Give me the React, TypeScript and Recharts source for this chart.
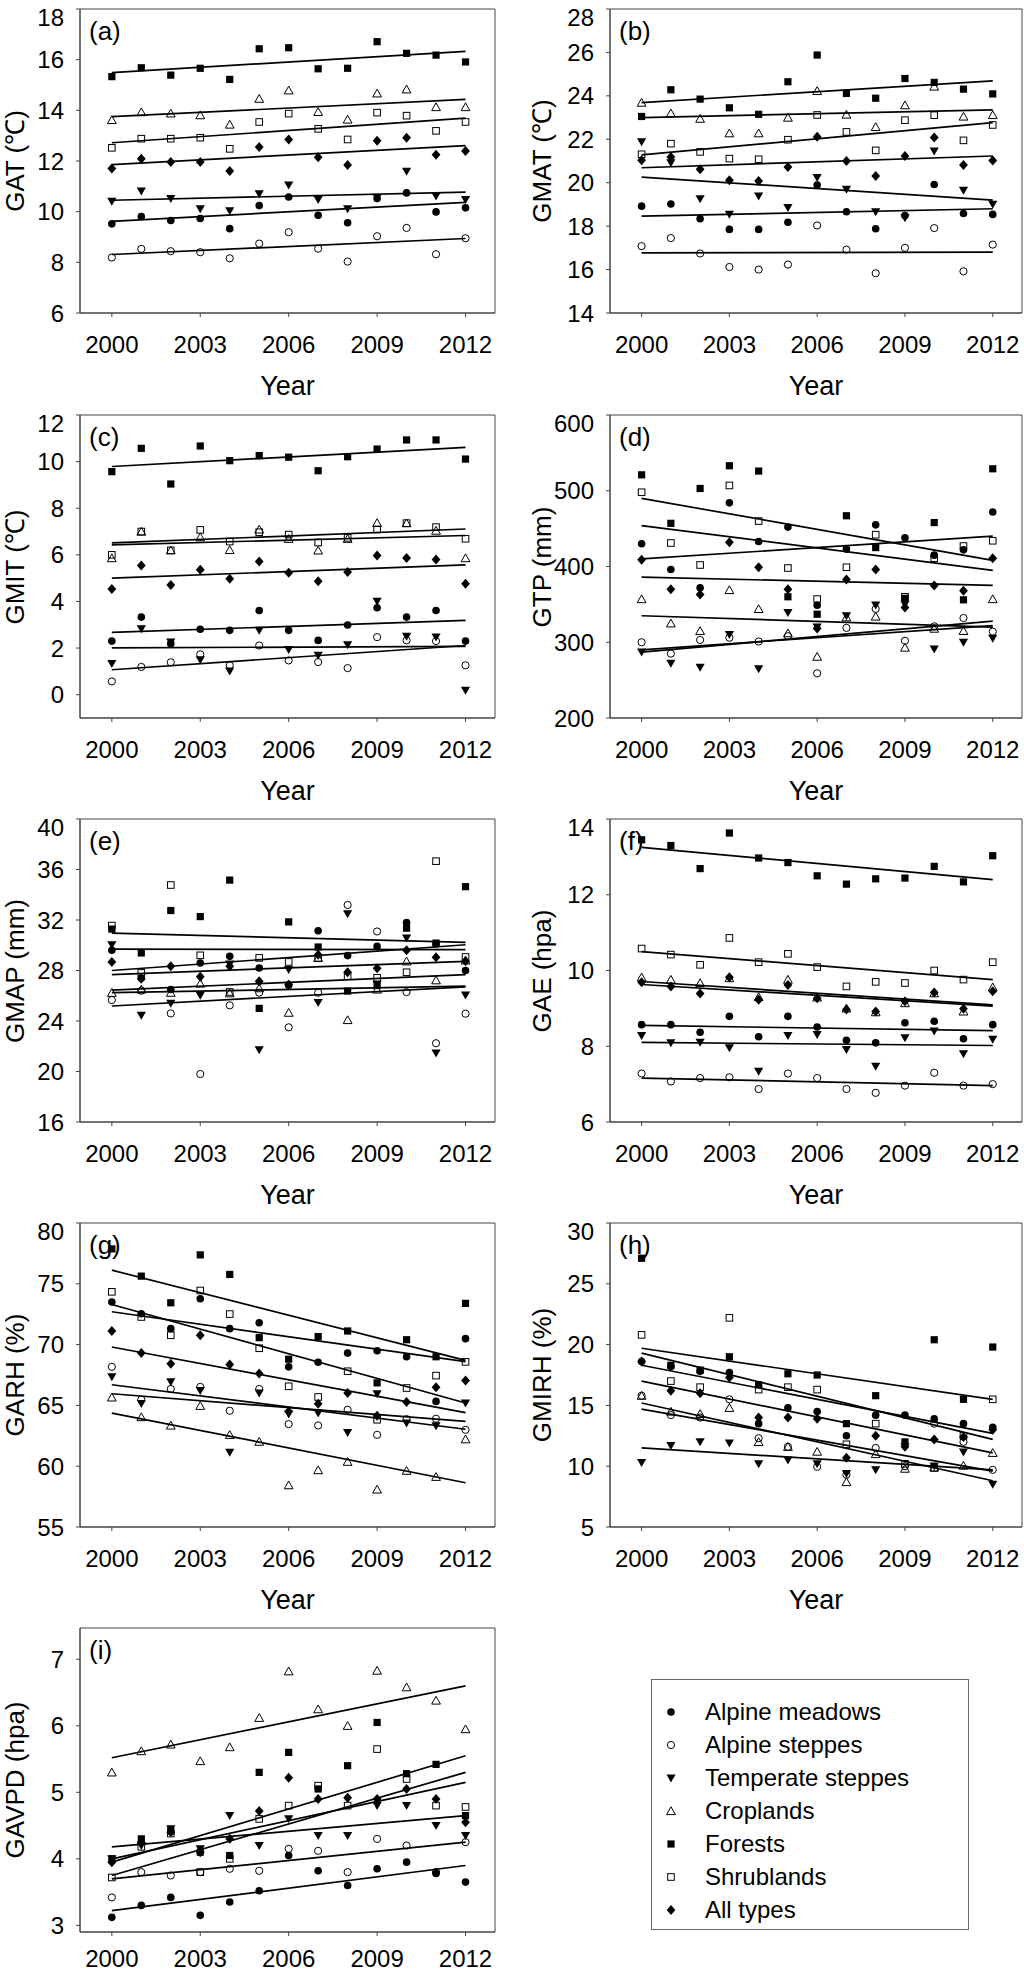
import React from "react";
import { ScatterChart, Scatter, XAxis, YAxis, ReferenceArea } from "recharts";

// years on the x axis, shared by all nine panels
const YEARS = [2000, 2001, 2002, 2003, 2004, 2005, 2006, 2007, 2008, 2009, 2010, 2011, 2012];
const X_TICKS = [2000, 2003, 2006, 2009, 2012];
const X_DOMAIN = [1998.92, 2013];

const TYPES = ["Alpine meadows", "Alpine steppes", "Temperate steppes", "Croplands", "Forests", "Shrublands", "All types"];
const MARKS = ["circleF", "circleO", "triDownF", "triUpO", "squareF", "squareO", "diamondF"];

// rows follow TYPES order; trend rows are [value at 2000, value at 2012]
const GAT = [
  [9.52, 9.81, 9.65, 9.73, 9.33, 10.24, 10.58, 9.86, 9.56, 10.52, 10.74, 9.99, 10.15],
  [8.19, 8.53, 8.44, 8.4, 8.16, 8.74, 9.19, 8.54, 8.03, 9.03, 9.36, 8.32, 8.95],
  [10.41, 10.81, 10.52, 10.11, 10.03, 10.7, 11.05, 10.48, 10.11, 10.55, 11.59, 10.61, 10.48],
  [13.62, 13.93, 13.88, 13.81, 13.44, 14.46, 14.79, 13.94, 13.64, 14.67, 14.83, 14.13, 14.13],
  [15.33, 15.68, 15.39, 15.66, 15.22, 16.43, 16.47, 15.64, 15.66, 16.71, 16.25, 16.18, 15.91],
  [12.52, 12.88, 12.88, 12.92, 12.48, 13.54, 13.87, 13.27, 12.85, 13.91, 13.79, 13.19, 13.54],
  [11.7, 12.09, 11.96, 11.96, 11.61, 12.55, 12.85, 12.15, 11.84, 12.8, 12.92, 12.25, 12.39],
];
const GAT_TREND = [[9.62, 10.37], [8.31, 8.94], [10.45, 10.77], [13.75, 14.43], [15.49, 16.33], [12.72, 13.69], [11.86, 12.61]];

const GMAT = [
  [18.92, 19.02, 18.34, 17.85, 17.85, 18.18, 19.89, 18.66, 17.88, 18.49, 19.92, 18.58, 18.54],
  [17.08, 17.45, 16.74, 16.12, 16.0, 16.23, 18.03, 16.92, 15.83, 17.0, 17.91, 15.92, 17.15],
  [21.88, 20.92, 19.26, 18.54, 19.38, 18.85, 20.23, 19.69, 18.66, 18.38, 21.46, 19.65, 19.0],
  [23.69, 23.2, 22.95, 22.28, 22.28, 23.0, 24.23, 23.14, 22.57, 23.57, 24.43, 23.05, 23.12],
  [23.05, 24.28, 23.85, 23.45, 23.15, 24.65, 25.88, 24.11, 23.89, 24.8, 24.62, 24.31, 24.09],
  [21.31, 21.8, 21.42, 21.11, 21.08, 21.98, 23.12, 22.34, 21.49, 22.88, 23.11, 21.95, 22.66],
  [21.03, 21.18, 20.62, 20.11, 20.08, 20.72, 22.12, 21.0, 20.31, 21.23, 22.08, 20.82, 21.02],
];
const GMAT_TREND = [[18.46, 18.8], [16.77, 16.8], [20.26, 19.2], [23.0, 23.35], [23.69, 24.69], [21.28, 22.77], [20.69, 21.23]];

const GMIT = [
  [2.3, 3.33, 2.19, 2.81, 2.76, 3.61, 2.76, 2.33, 2.99, 3.73, 3.33, 3.61, 2.3],
  [0.57, 1.19, 1.39, 1.73, 1.26, 2.11, 1.47, 1.4, 1.14, 2.47, 2.33, 2.3, 1.26],
  [1.33, 2.83, 2.26, 1.5, 1.01, 2.76, 1.94, 1.69, 2.14, 4.0, 2.5, 2.47, 0.19],
  [5.86, 7.0, 6.2, 6.76, 6.21, 7.09, 6.69, 6.19, 6.69, 7.37, 7.36, 7.04, 5.86],
  [9.57, 10.57, 9.04, 10.67, 10.04, 10.26, 10.19, 9.61, 10.21, 10.54, 10.93, 10.93, 10.11],
  [6.0, 7.0, 6.19, 7.07, 6.57, 6.97, 6.87, 6.53, 6.73, 7.09, 7.36, 7.19, 6.69],
  [4.54, 5.54, 4.71, 5.36, 4.97, 5.71, 5.23, 4.87, 5.26, 5.97, 5.86, 5.8, 4.76],
];
const GMIT_TREND = [[2.67, 3.19], [1.07, 2.11], [2.01, 2.07], [6.43, 6.83], [9.79, 10.61], [6.51, 7.11], [5.0, 5.57]];

const GTP = [
  [430, 396, 372, 484, 433, 452, 349, 423, 455, 438, 415, 422, 472],
  [300, 285, 303, 306, 301, 308, 259, 319, 344, 302, 321, 332, 314],
  [287, 272, 267, 310, 265, 339, 320, 335, 349, 350, 291, 300, 305],
  [357, 325, 315, 369, 344, 312, 281, 333, 334, 293, 318, 315, 357],
  [521, 457, 503, 533, 526, 360, 337, 467, 425, 358, 458, 356, 529],
  [498, 431, 402, 507, 460, 398, 357, 399, 442, 360, 411, 427, 434],
  [409, 370, 363, 432, 399, 370, 318, 383, 396, 346, 375, 368, 411],
];
const GTP_TREND = [[410, 440], [290, 322], [287, 328], [335, 320], [490, 408], [454, 395], [386, 375]];

const GMAP = [
  [29.6, 27.4, 26.5, 28.6, 29.12, 28.2, 26.84, 31.14, 29.18, 29.91, 31.8, 30.1, 28.0],
  [25.66, 26.4, 24.6, 19.8, 25.24, 26.24, 23.5, 26.24, 33.19, 31.09, 26.29, 22.24, 24.58],
  [30.04, 24.45, 25.4, 26.03, 28.5, 21.71, 28.07, 25.45, 32.48, 26.9, 30.57, 21.45, 26.05],
  [26.24, 26.5, 26.24, 26.97, 26.2, 26.6, 24.66, 29.0, 24.08, 26.5, 28.73, 27.23, 28.8],
  [31.28, 29.39, 32.75, 32.27, 35.16, 25.0, 31.85, 29.86, 26.37, 26.81, 31.35, 30.17, 34.64],
  [31.56, 27.81, 34.77, 29.2, 26.3, 29.0, 28.68, 29.0, 27.55, 27.42, 27.86, 36.66, 29.07],
  [28.68, 27.34, 28.34, 27.5, 28.34, 27.15, 26.89, 29.25, 27.86, 28.18, 29.6, 29.04, 28.73],
];
const GMAP_TREND = [[28.0, 30.04], [25.19, 26.71], [26.24, 26.76], [26.45, 27.68], [30.96, 30.23], [29.7, 29.65], [27.68, 28.73]];

const GAE = [
  [8.57, 8.57, 8.37, 8.79, 8.25, 8.79, 8.51, 8.16, 8.09, 8.62, 8.66, 8.2, 8.57],
  [7.28, 7.07, 7.16, 7.18, 6.87, 7.28, 7.16, 6.87, 6.77, 6.96, 7.3, 6.96, 7.0],
  [8.28, 8.09, 8.1, 7.96, 7.34, 8.28, 8.31, 7.91, 7.47, 8.22, 8.4, 7.8, 8.18],
  [9.82, 9.76, 9.67, 9.8, 9.3, 9.76, 9.29, 9.0, 8.9, 9.14, 9.4, 8.92, 9.56],
  [13.45, 13.3, 12.69, 13.63, 12.97, 12.85, 12.5, 12.28, 12.42, 12.44, 12.75, 12.34, 13.03],
  [10.58, 10.42, 10.15, 10.86, 10.22, 10.44, 10.09, 9.58, 9.7, 9.67, 10.0, 9.76, 10.22],
  [9.69, 9.58, 9.39, 9.82, 9.23, 9.62, 9.27, 8.97, 8.92, 9.19, 9.42, 8.99, 9.45],
];
const GAE_TREND = [[8.55, 8.41], [7.16, 6.96], [8.1, 8.02], [9.71, 9.09], [13.25, 12.4], [10.5, 9.76], [9.63, 9.06]];

const GARH = [
  [73.5, 72.54, 71.31, 73.77, 71.31, 71.8, 68.17, 68.55, 69.3, 69.5, 69.0, 65.33, 70.49],
  [68.17, 65.47, 66.35, 66.52, 64.56, 66.35, 63.46, 63.35, 64.64, 62.58, 63.87, 63.9, 62.99],
  [67.34, 65.14, 66.93, 66.21, 61.14, 66.02, 64.28, 64.37, 62.77, 65.94, 63.54, 63.32, 65.19],
  [65.66, 64.04, 63.35, 64.97, 62.58, 62.02, 58.44, 59.68, 60.37, 58.09, 59.63, 59.13, 62.22],
  [77.87, 75.63, 73.44, 77.38, 75.77, 70.57, 68.8, 70.66, 71.12, 66.85, 70.4, 69.0, 73.39],
  [74.34, 72.27, 70.77, 74.45, 72.51, 69.7, 66.57, 65.69, 67.81, 63.82, 66.43, 67.45, 68.58],
  [71.12, 69.3, 68.42, 70.77, 68.36, 67.62, 64.5, 65.14, 66.02, 64.15, 65.28, 66.5, 67.04],
];
const GARH_TREND = [[72.7, 68.6], [65.96, 63.68], [66.7, 63.04], [64.37, 58.64], [76.12, 68.7], [73.3, 65.2], [69.8, 64.4]];

const GMIRH = [
  [18.6, 18.2, 17.8, 17.7, 13.5, 14.8, 14.5, 12.5, 14.2, 14.2, 13.9, 13.5, 13.2],
  [15.8, 14.2, 14.0, 15.5, 12.3, 11.6, 9.95, 9.3, 11.5, 10.0, 13.5, 12.0, 9.7],
  [10.3, 11.7, 12.0, 11.9, 10.2, 10.5, 10.2, 9.4, 9.7, 11.6, 10.0, 11.15, 8.5],
  [15.8, 14.5, 14.3, 14.8, 12.0, 11.6, 11.2, 8.7, 11.0, 9.8, 9.9, 10.05, 11.1],
  [27.1, 18.3, 17.9, 19.0, 16.7, 17.6, 17.5, 13.5, 15.8, 12.0, 20.4, 15.5, 19.8],
  [20.8, 17.0, 16.5, 22.2, 16.3, 16.5, 16.3, 11.8, 13.5, 10.2, 9.86, 12.5, 15.5],
  [18.6, 16.2, 16.0, 17.3, 14.0, 14.0, 13.9, 10.7, 12.5, 11.6, 12.2, 12.4, 13.0],
];
const GMIRH_TREND = [[18.3, 12.7], [14.7, 9.6], [11.5, 9.7], [15.2, 8.8], [19.7, 15.5], [19.3, 12.2], [17.0, 11.1]];

const GAVPD = [
  [3.12, 3.3, 3.42, 3.15, 3.35, 3.52, 4.05, 3.82, 3.6, 3.85, 3.95, 3.78, 3.65],
  [3.42, 3.8, 3.75, 3.8, 3.85, 3.82, 4.15, 4.12, 3.8, 4.3, 4.2, 3.8, 4.25],
  [4.0, 4.2, 4.45, 4.15, 4.65, 4.2, 4.6, 4.35, 4.35, 4.8, 4.8, 4.5, 4.35],
  [5.3, 5.62, 5.72, 5.47, 5.68, 6.12, 6.82, 6.25, 6.0, 6.83, 6.58, 6.38, 5.95],
  [4.0, 4.3, 4.42, 4.1, 4.05, 5.3, 5.6, 5.05, 5.4, 6.05, 5.28, 5.42, 4.65],
  [3.72, 4.18, 4.38, 3.8, 4.0, 4.6, 4.8, 5.1, 4.8, 5.65, 5.2, 4.8, 4.78],
  [3.95, 4.25, 4.4, 4.1, 4.3, 4.72, 5.22, 4.9, 4.92, 4.9, 5.05, 4.9, 4.55],
];
const GAVPD_TREND = [[3.22, 3.9], [3.7, 4.25], [4.18, 4.65], [5.52, 6.6], [3.95, 5.55], [3.75, 5.3], [4.0, 5.15]];

const PANELS = [
  { tag: "(a)", title: "GAT (℃)", domain: [6, 18], ticks: [6, 8, 10, 12, 14, 16, 18], values: GAT, trend: GAT_TREND, col: 0, row: 0 },
  { tag: "(b)", title: "GMAT (℃)", domain: [14, 28], ticks: [14, 16, 18, 20, 22, 24, 26, 28], values: GMAT, trend: GMAT_TREND, col: 1, row: 0 },
  { tag: "(c)", title: "GMIT (℃)", domain: [-1, 12], ticks: [0, 2, 4, 6, 8, 10, 12], values: GMIT, trend: GMIT_TREND, col: 0, row: 1 },
  { tag: "(d)", title: "GTP (mm)", domain: [200, 600], ticks: [200, 300, 400, 500, 600], values: GTP, trend: GTP_TREND, col: 1, row: 1 },
  { tag: "(e)", title: "GMAP (mm)", domain: [16, 40], ticks: [16, 20, 24, 28, 32, 36, 40], values: GMAP, trend: GMAP_TREND, col: 0, row: 2 },
  { tag: "(f)", title: "GAE (hpa)", domain: [6, 14], ticks: [6, 8, 10, 12, 14], values: GAE, trend: GAE_TREND, col: 1, row: 2 },
  { tag: "(g)", title: "GARH (%)", domain: [55, 80], ticks: [55, 60, 65, 70, 75, 80], values: GARH, trend: GARH_TREND, col: 0, row: 3 },
  { tag: "(h)", title: "GMIRH (%)", domain: [5, 30], ticks: [5, 10, 15, 20, 25, 30], values: GMIRH, trend: GMIRH_TREND, col: 1, row: 3 },
  { tag: "(i)", title: "GAVPD (hpa)", domain: [2.9, 7.47], ticks: [3, 4, 5, 6, 7], values: GAVPD, trend: GAVPD_TREND, col: 0, row: 4 },
];

// layout of the plot areas on the page
const COL_LEFT = [80, 610];
const COL_WIDTH = [415, 412];
const COL_TITLE_X = [15, 542];
const ROW_TOP = [9, 415, 819, 1223, 1628];
const ROW_H = [304, 303, 303, 304, 304];
const Y_AXIS_W = 64;
const AXIS = "#444";

function drawMarker(kind: string, cx: number, cy: number) {
  switch (kind) {
    case "circleF":
      return <circle cx={cx} cy={cy} r={3.8} fill="#000" />;
    case "circleO":
      return <circle cx={cx} cy={cy} r={3.6} fill="none" stroke="#000" strokeWidth={1} />;
    case "triDownF":
      return <polygon points={`${cx - 4.6},${cy - 3.6} ${cx + 4.6},${cy - 3.6} ${cx},${cy + 4.4}`} fill="#000" />;
    case "triUpO":
      return <polygon points={`${cx - 4.4},${cy + 3.6} ${cx + 4.4},${cy + 3.6} ${cx},${cy - 4.2}`} fill="none" stroke="#000" strokeWidth={1} />;
    case "squareF":
      return <rect x={cx - 3.6} y={cy - 3.6} width={7.2} height={7.2} fill="#000" />;
    case "squareO":
      return <rect x={cx - 3.3} y={cy - 3.3} width={6.6} height={6.6} fill="none" stroke="#000" strokeWidth={1} />;
    default:
      return <polygon points={`${cx},${cy - 5} ${cx + 4.4},${cy} ${cx},${cy + 5} ${cx - 4.4},${cy}`} fill="#000" />;
  }
}

function Panel({ p }: { p: any }) {
  const left = COL_LEFT[p.col];
  const top = ROW_TOP[p.row];
  const w = COL_WIDTH[p.col];
  const h = ROW_H[p.row];
  const last = p.row === 4;

  return (
    <>
      <div style={{ position: "absolute", left: left - Y_AXIS_W, top: top - 5 }}>
        <ScatterChart width={w + Y_AXIS_W + 2} height={h + 5 + 44} margin={{ top: 5, right: 2, bottom: 0, left: 0 }}>
          <XAxis
            type="number"
            dataKey="x"
            domain={X_DOMAIN}
            ticks={X_TICKS}
            allowDataOverflow
            height={44}
            tickSize={4}
            tickMargin={last ? 14 : 19}
            tick={{ fontSize: 24, fill: "#000" }}
            axisLine={{ stroke: AXIS }}
            tickLine={{ stroke: AXIS }}
          />
          <YAxis
            type="number"
            dataKey="y"
            domain={p.domain}
            ticks={p.ticks}
            allowDataOverflow
            width={Y_AXIS_W}
            tickSize={4}
            tickMargin={12}
            tick={{ fontSize: 24, fill: "#000" }}
            axisLine={{ stroke: AXIS }}
            tickLine={{ stroke: AXIS }}
          />
          <ReferenceArea
            x1={X_DOMAIN[0]}
            x2={X_DOMAIN[1]}
            y1={p.domain[0]}
            y2={p.domain[1]}
            fill="none"
            stroke={AXIS}
            strokeWidth={1}
            ifOverflow="visible"
          />
          {p.trend.map((t: number[], i: number) => (
            <Scatter
              key={"t" + i}
              data={[
                { x: YEARS[0], y: t[0] },
                { x: YEARS[YEARS.length - 1], y: t[1] },
              ]}
              line={{ stroke: "#000", strokeWidth: 1.7 }}
              shape={() => <g />}
              isAnimationActive={false}
            />
          ))}
          {p.values.map((vals: number[], i: number) => (
            <Scatter
              key={"s" + i}
              name={TYPES[i]}
              data={YEARS.map((x, j) => ({ x, y: vals[j] }))}
              shape={(s: any) => drawMarker(MARKS[i], s.cx, s.cy)}
              isAnimationActive={false}
            />
          ))}
        </ScatterChart>
      </div>
      <div style={{ position: "absolute", left: left + 9, top: top + 7, fontSize: 26, lineHeight: "30px" }}>{p.tag}</div>
      {!last && (
        <div
          style={{
            position: "absolute",
            left: left + w / 2,
            top: top + h + 58,
            transform: "translateX(-50%)",
            fontSize: 27,
            lineHeight: "30px",
          }}
        >
          Year
        </div>
      )}
      <div
        style={{
          position: "absolute",
          left: COL_TITLE_X[p.col],
          top: top + h / 2,
          transform: "translate(-50%, -50%) rotate(-90deg)",
          fontSize: 26,
          lineHeight: "26px",
          whiteSpace: "nowrap",
        }}
      >
        {p.title}
      </div>
    </>
  );
}

function Legend() {
  return (
    <div
      style={{
        position: "absolute",
        left: 651,
        top: 1679,
        width: 318,
        height: 251,
        border: "1px solid #666",
        boxSizing: "border-box",
      }}
    >
      {TYPES.map((t, i) => (
        <div key={t} style={{ position: "absolute", left: 0, top: 16 + i * 33, height: 33, width: 316 }}>
          <svg width={16} height={16} style={{ position: "absolute", left: 11, top: 8 }}>
            {drawMarker(MARKS[i], 8, 8)}
          </svg>
          <div style={{ position: "absolute", left: 53, top: 1, fontSize: 24, lineHeight: "30px", whiteSpace: "nowrap" }}>{t}</div>
        </div>
      ))}
    </div>
  );
}

export default function App() {
  return (
    <div
      style={{
        position: "absolute",
        left: 0,
        top: 0,
        width: 1024,
        height: 1974,
        overflow: "hidden",
        background: "#fff",
        fontFamily: "'Liberation Sans', Arial, sans-serif",
        color: "#000",
      }}
    >
      {PANELS.map((p) => (
        <Panel key={p.tag} p={p} />
      ))}
      <Legend />
    </div>
  );
}
